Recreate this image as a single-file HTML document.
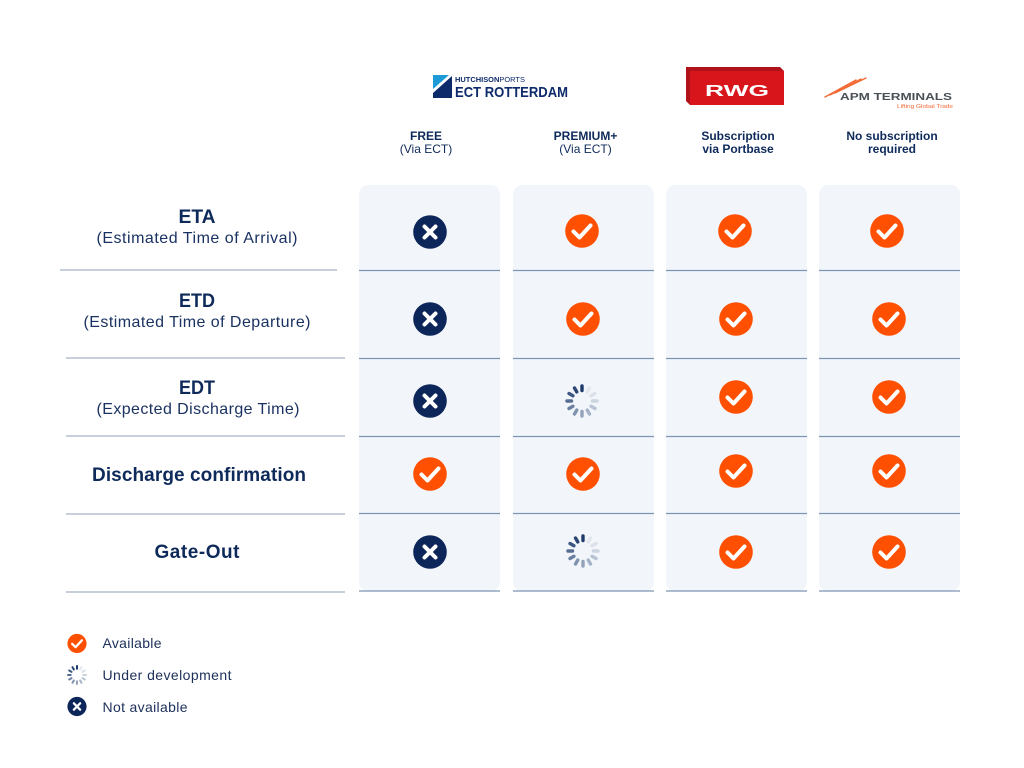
<!DOCTYPE html>
<html>
<head>
<meta charset="utf-8">
<style>
  html,body{margin:0;padding:0;background:#fff;}
  svg{display:block;}
  text{font-family:"Liberation Sans", sans-serif;}
</style>
</head>
<body>
<svg width="1024" height="768" viewBox="0 0 1024 768" xmlns="http://www.w3.org/2000/svg">
  <defs>
    <g id="chk">
      <circle cx="0" cy="0" r="16.8" fill="#fe5000"/>
      <polyline points="-8.5,0.5 -2.5,6.5 8.5,-5.5" fill="none" stroke="#fff" stroke-width="4" stroke-linecap="round" stroke-linejoin="round"/>
    </g>
    <g id="xx">
      <circle cx="0" cy="0" r="16.8" fill="#0d2659"/>
      <path d="M-5.5,-5.5 L5.5,5.5 M5.5,-5.5 L-5.5,5.5" stroke="#fff" stroke-width="4" stroke-linecap="round"/>
    </g>
    <g id="spin">
      <g stroke-width="3.4" stroke-linecap="round">
        <line x1="0" y1="-10.5" x2="0" y2="-15" stroke="#1d3a6a" transform="rotate(0)"/>
        <line x1="0" y1="-10.5" x2="0" y2="-15" stroke="#e3e8ef" transform="rotate(30)"/>
        <line x1="0" y1="-10.5" x2="0" y2="-15" stroke="#dbe1ea" transform="rotate(60)"/>
        <line x1="0" y1="-10.5" x2="0" y2="-15" stroke="#cbd4e0" transform="rotate(90)"/>
        <line x1="0" y1="-10.5" x2="0" y2="-15" stroke="#b8c4d4" transform="rotate(120)"/>
        <line x1="0" y1="-10.5" x2="0" y2="-15" stroke="#a5b3c8" transform="rotate(150)"/>
        <line x1="0" y1="-10.5" x2="0" y2="-15" stroke="#93a3bb" transform="rotate(180)"/>
        <line x1="0" y1="-10.5" x2="0" y2="-15" stroke="#8193ae" transform="rotate(210)"/>
        <line x1="0" y1="-10.5" x2="0" y2="-15" stroke="#6b80a0" transform="rotate(240)"/>
        <line x1="0" y1="-10.5" x2="0" y2="-15" stroke="#566d91" transform="rotate(270)"/>
        <line x1="0" y1="-10.5" x2="0" y2="-15" stroke="#3f5881" transform="rotate(300)"/>
        <line x1="0" y1="-10.5" x2="0" y2="-15" stroke="#2b4674" transform="rotate(330)"/>
      </g>
    </g>
  </defs>

  <!-- Logos -->
  <!-- ECT Rotterdam -->
  <polygon points="433,75 449,75 433,89" fill="#1e9ad6"/>
  <polygon points="452,76 452,98 433,98 433,93" fill="#0d2a6b"/>
  <text x="455" y="82" font-size="7" font-weight="bold" fill="#0d2a6b" textLength="70" lengthAdjust="spacingAndGlyphs">HUTCHISON<tspan font-weight="normal">PORTS</tspan></text>
  <text x="455" y="97" font-size="15" font-weight="bold" fill="#0d2a6b" textLength="113" lengthAdjust="spacingAndGlyphs">ECT ROTTERDAM</text>

  <!-- RWG -->
  <polygon points="686,67 780,67 784,71 784,105 690,105 686,101" fill="#b0121a"/>
  <rect x="690" y="71" width="94" height="34" fill="#d9151c"/>
  <text x="737" y="96" font-size="16" font-weight="bold" fill="#fff" text-anchor="middle" textLength="64" lengthAdjust="spacingAndGlyphs">RWG</text>

  <!-- APM -->
  <g stroke="#f26a36" stroke-width="1.4" stroke-linecap="round">
    <line x1="825" y1="97" x2="856" y2="80"/>
    <line x1="830" y1="95" x2="861" y2="79"/>
    <line x1="835" y1="93" x2="866" y2="78"/>
  </g>
  <text x="840" y="100" font-size="10" font-weight="bold" fill="#4a4f57" textLength="112" lengthAdjust="spacingAndGlyphs">APM TERMINALS</text>
  <text x="897" y="108" font-size="5.5" fill="#f26a36" textLength="56" lengthAdjust="spacingAndGlyphs">Lifting Global Trade</text>

  <!-- Column headers -->
  <g fill="#0e2a5a" font-size="12" text-anchor="middle">
    <text x="426" y="140" font-weight="bold">FREE</text>
    <text x="426" y="153">(Via ECT)</text>
    <text x="585.5" y="140" font-weight="bold">PREMIUM+</text>
    <text x="585.5" y="153">(Via ECT)</text>
    <text x="738" y="140" font-weight="bold">Subscription</text>
    <text x="738" y="153" font-weight="bold">via Portbase</text>
    <text x="892" y="140" font-weight="bold">No subscription</text>
    <text x="892" y="153" font-weight="bold">required</text>
  </g>

  <!-- Column backgrounds -->
  <g fill="#f2f6fb">
    <rect x="359" y="185" width="141" height="406" rx="9"/>
    <rect x="513" y="185" width="141" height="406" rx="9"/>
    <rect x="666" y="185" width="141" height="406" rx="9"/>
    <rect x="819" y="185" width="141" height="406" rx="9"/>
  </g>

  <!-- Column dividers -->
  <g stroke="#7c93b2" stroke-width="1.2">
    <line x1="359" y1="270.5" x2="500" y2="270.5"/>
    <line x1="513" y1="270.5" x2="654" y2="270.5"/>
    <line x1="666" y1="270.5" x2="807" y2="270.5"/>
    <line x1="819" y1="270.5" x2="960" y2="270.5"/>

    <line x1="359" y1="358.5" x2="500" y2="358.5"/>
    <line x1="513" y1="358.5" x2="654" y2="358.5"/>
    <line x1="666" y1="358.5" x2="807" y2="358.5"/>
    <line x1="819" y1="358.5" x2="960" y2="358.5"/>

    <line x1="359" y1="436.5" x2="500" y2="436.5"/>
    <line x1="513" y1="436.5" x2="654" y2="436.5"/>
    <line x1="666" y1="436.5" x2="807" y2="436.5"/>
    <line x1="819" y1="436.5" x2="960" y2="436.5"/>

    <line x1="359" y1="513.5" x2="500" y2="513.5"/>
    <line x1="513" y1="513.5" x2="654" y2="513.5"/>
    <line x1="666" y1="513.5" x2="807" y2="513.5"/>
    <line x1="819" y1="513.5" x2="960" y2="513.5"/>

    <line x1="359" y1="591" x2="500" y2="591"/>
    <line x1="513" y1="591" x2="654" y2="591"/>
    <line x1="666" y1="591" x2="807" y2="591"/>
    <line x1="819" y1="591" x2="960" y2="591"/>
  </g>

  <!-- Left dividers -->
  <g stroke="#b3bfcf" stroke-width="1.6">
    <line x1="60" y1="270" x2="337" y2="270"/>
    <line x1="66" y1="358" x2="345" y2="358"/>
    <line x1="66" y1="436" x2="345" y2="436"/>
    <line x1="66" y1="514" x2="345" y2="514"/>
    <line x1="66" y1="592" x2="345" y2="592"/>
  </g>

  <!-- Row labels -->
  <g fill="#0e2a5a" text-anchor="middle">
    <text x="197" y="223" font-size="19" font-weight="bold" textLength="37" lengthAdjust="spacingAndGlyphs">ETA</text>
    <text x="197" y="243" font-size="16" fill="#1a3262" textLength="201" lengthAdjust="spacing">(Estimated Time of Arrival)</text>
    <text x="197" y="307" font-size="19" font-weight="bold" textLength="36" lengthAdjust="spacingAndGlyphs">ETD</text>
    <text x="197" y="327" font-size="16" fill="#1a3262" textLength="227" lengthAdjust="spacing">(Estimated Time of Departure)</text>
    <text x="197" y="394" font-size="19" font-weight="bold" textLength="36" lengthAdjust="spacingAndGlyphs">EDT</text>
    <text x="198" y="414" font-size="16" fill="#1a3262" textLength="203" lengthAdjust="spacing">(Expected Discharge Time)</text>
    <text x="199" y="481" font-size="19" font-weight="bold" textLength="214" lengthAdjust="spacing">Discharge confirmation</text>
    <text x="197" y="558" font-size="19" font-weight="bold" textLength="85" lengthAdjust="spacing">Gate-Out</text>
  </g>

  <!-- Icons row 1 -->
  <use href="#xx" x="430" y="232"/>
  <use href="#chk" x="582" y="231"/>
  <use href="#chk" x="735" y="231"/>
  <use href="#chk" x="887" y="231"/>
  <!-- row 2 -->
  <use href="#xx" x="430" y="319"/>
  <use href="#chk" x="583" y="319"/>
  <use href="#chk" x="736" y="319"/>
  <use href="#chk" x="889" y="319"/>
  <!-- row 3 -->
  <use href="#xx" x="430" y="401"/>
  <use href="#spin" x="582" y="401"/>
  <use href="#chk" x="736" y="397"/>
  <use href="#chk" x="889" y="397"/>
  <!-- row 4 -->
  <use href="#chk" x="430" y="474"/>
  <use href="#chk" x="583" y="474"/>
  <use href="#chk" x="736" y="471"/>
  <use href="#chk" x="889" y="471"/>
  <!-- row 5 -->
  <use href="#xx" x="430" y="552"/>
  <use href="#spin" x="583" y="551"/>
  <use href="#chk" x="736" y="552"/>
  <use href="#chk" x="889" y="552"/>

  <!-- Legend -->
  <g transform="translate(77,643.5) scale(0.57)"><use href="#chk"/></g>
  <g transform="translate(77,675) scale(0.6)"><use href="#spin"/></g>
  <g transform="translate(77,706.5) scale(0.57)"><use href="#xx"/></g>
  <g fill="#1c2f5a" font-size="14">
    <text x="102.5" y="648" textLength="59" lengthAdjust="spacing">Available</text>
    <text x="102.5" y="680" textLength="129" lengthAdjust="spacing">Under development</text>
    <text x="102.5" y="712" textLength="85" lengthAdjust="spacing">Not available</text>
  </g>
</svg>
</body>
</html>
